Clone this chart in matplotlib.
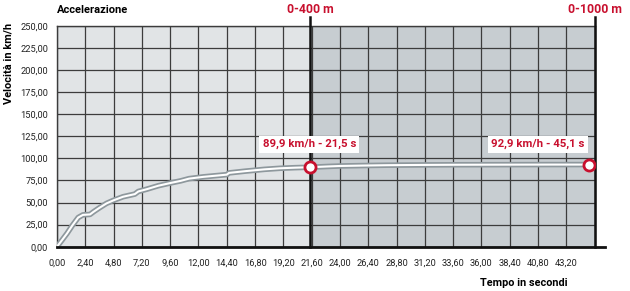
import numpy as np
import matplotlib.pyplot as plt

plt.rcParams['font.family'] = ['Roboto', 'DejaVu Sans']

# acceleration curve (time in s, speed in km/h)
tempo = [0, 0.4, 0.85, 1.3, 1.8, 2.2, 2.8, 3.1, 3.6, 4.2, 4.8, 5.6, 6.6, 6.9, 7.6,
         8.6, 9.6, 10.5, 11.2, 12.4, 14.4, 14.6, 16.0, 17.6, 18.9, 20.2, 21.5,
         23.0, 24.0, 26.0, 28.0, 31.0, 34.0, 38.0, 42.0, 45.1]
velocita = [0, 7, 15, 24, 33, 36, 36.5, 39.5, 44, 49, 52.5, 56.5, 59.5, 62.5, 65,
            69, 72, 74.5, 77, 79, 81.5, 83.5, 85.5, 87.5, 88.7, 89.4, 89.9,
            90.8, 91.3, 91.8, 92.2, 92.5, 92.7, 92.8, 92.9, 92.9]

# markers
punti_t = [21.5, 45.1]
punti_v = [89.9, 92.9]
etichette = ["89,9 km/h - 21,5 s", "92,9 km/h - 45,1 s"]

xticks = np.arange(0, 44, 2.4)
yticks = np.arange(0, 251, 25)

RED = "#c8102e"
LIGHT = "#e1e4e6"
DARK = "#c7cdd1"
GRID = "#3c3c3c"

fig = plt.figure(figsize=(6.3, 2.91), dpi=100)
ax = fig.add_axes([57 / 630, 44.3 / 291, 537.6 / 630, 221 / 291])
ax.set_xlim(0, 45.6)
ax.set_ylim(0, 250)

ax.axvspan(0, 21.5, color=LIGHT, zorder=0)
ax.axvspan(21.5, 45.6, color=DARK, zorder=0)

ax.set_xticks(xticks)
ax.set_yticks(yticks)
ax.set_xticklabels([f"{x:.2f}".replace(".", ",") for x in xticks])
ax.set_yticklabels([f"{y:.2f}".replace(".", ",") for y in yticks])
ax.tick_params(axis='x', length=0, pad=8.5, labelsize=6.7, colors="#222222")
ax.tick_params(axis='y', length=0, pad=6.5, labelsize=6.7, colors="#222222")
ax.grid(True, color=GRID, lw=0.9, zorder=1)
ax.set_axisbelow(True)

for s in ax.spines.values():
    s.set_color(GRID)
    s.set_linewidth(1.0)
ax.spines['bottom'].set_visible(False)

# bottom axis line extends past the plot
ax.plot([0, 46.5], [0, 0], color="#111111", lw=2, clip_on=False, zorder=5)

# section lines
for xv in [21.5, 45.6]:
    ax.plot([xv, xv], [0, 260], color="#111111", lw=1.8, clip_on=False, zorder=5)

# curve
ax.plot(tempo, velocita, color="#8e989d", lw=4, solid_capstyle='round', zorder=3)
ax.plot(tempo, velocita, color="white", lw=1.5, solid_capstyle='round', zorder=4)

ax.plot(punti_t, punti_v, 'o', mfc='white', mec=RED, mew=2, ms=8, zorder=6)

box = dict(boxstyle='square,pad=0.3', fc='white', ec='none')
ax.text(21.4, 116, etichette[0], color=RED, fontsize=8.2, fontweight='bold',
        ha='center', va='center', bbox=box, zorder=7)
ax.text(40.8, 116, etichette[1], color=RED, fontsize=8.2, fontweight='bold',
        ha='center', va='center', bbox=box, zorder=7)

ax.text(0, 268, "Accelerazione", fontsize=8, fontweight='bold', ha='left', va='center')
ax.text(21.5, 268, "0-400 m", color=RED, fontsize=8.8, fontweight='bold', ha='center', va='center')
ax.text(45.6, 268, "0-1000 m", color=RED, fontsize=8.8, fontweight='bold', ha='center', va='center')

fig.text(524 / 630, 1 - 283 / 291, "Tempo in secondi", fontsize=7.8, fontweight='bold',
         ha='center', va='center')
fig.text(9 / 630, 1 - 63 / 291, "Velocità in km/h", fontsize=7.9, fontweight='bold',
         rotation=90, ha='center', va='center')

fig.savefig("out.png", dpi=100)
